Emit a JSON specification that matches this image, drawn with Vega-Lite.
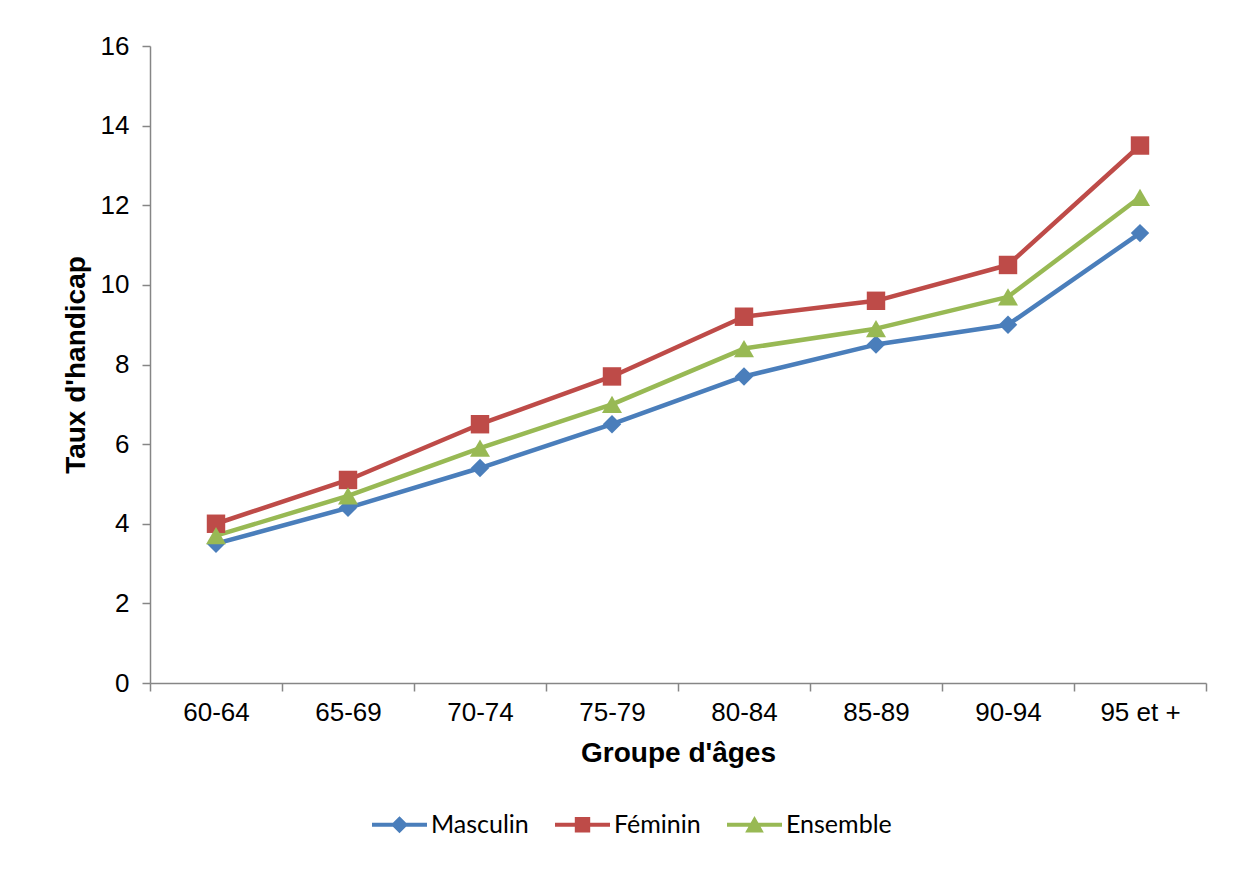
{
  "$schema": "https://vega.github.io/schema/vega-lite/v6.json",
  "width": 1056,
  "height": 637,
  "autosize": {"type": "none"},
  "padding": {"left": 150, "top": 46, "right": 30, "bottom": 186},
  "background": "white",
  "config": {
    "view": {"stroke": null},
    "axis": {
      "domainColor": "#868686",
      "domainWidth": 1.5,
      "tickColor": "#868686",
      "tickWidth": 1.5,
      "tickSize": 8,
      "grid": false,
      "labelFont": "Liberation Sans",
      "labelFontSize": 26,
      "labelColor": "#000000",
      "titleFont": "Liberation Sans",
      "titleFontSize": 28,
      "titleFontWeight": "bold",
      "titleColor": "#000000"
    }
  },
  "data": {
    "values": [
      {"age": "60-64", "serie": "Masculin", "taux": 3.5},
      {"age": "65-69", "serie": "Masculin", "taux": 4.4},
      {"age": "70-74", "serie": "Masculin", "taux": 5.4},
      {"age": "75-79", "serie": "Masculin", "taux": 6.5},
      {"age": "80-84", "serie": "Masculin", "taux": 7.7},
      {"age": "85-89", "serie": "Masculin", "taux": 8.5},
      {"age": "90-94", "serie": "Masculin", "taux": 9.0},
      {"age": "95 et +", "serie": "Masculin", "taux": 11.3},
      {"age": "60-64", "serie": "Féminin", "taux": 4.0},
      {"age": "65-69", "serie": "Féminin", "taux": 5.1},
      {"age": "70-74", "serie": "Féminin", "taux": 6.5},
      {"age": "75-79", "serie": "Féminin", "taux": 7.7},
      {"age": "80-84", "serie": "Féminin", "taux": 9.2},
      {"age": "85-89", "serie": "Féminin", "taux": 9.6},
      {"age": "90-94", "serie": "Féminin", "taux": 10.5},
      {"age": "95 et +", "serie": "Féminin", "taux": 13.5},
      {"age": "60-64", "serie": "Ensemble", "taux": 3.7},
      {"age": "65-69", "serie": "Ensemble", "taux": 4.7},
      {"age": "70-74", "serie": "Ensemble", "taux": 5.9},
      {"age": "75-79", "serie": "Ensemble", "taux": 7.0},
      {"age": "80-84", "serie": "Ensemble", "taux": 8.4},
      {"age": "85-89", "serie": "Ensemble", "taux": 8.9},
      {"age": "90-94", "serie": "Ensemble", "taux": 9.7},
      {"age": "95 et +", "serie": "Ensemble", "taux": 12.2}
    ]
  },
  "encoding": {
    "x": {
      "field": "age",
      "type": "nominal",
      "sort": null,
      "scale": {"type": "band", "paddingInner": 0, "paddingOuter": 0},
      "axis": {
        "title": "Groupe d'âges",
        "labelAngle": 0,
        "tickBand": "extent",
        "labelPadding": 8,
        "titlePadding": 14
      }
    },
    "y": {
      "field": "taux",
      "type": "quantitative",
      "scale": {"domain": [0, 16], "nice": false},
      "axis": {
        "title": "Taux d'handicap",
        "values": [0, 2, 4, 6, 8, 10, 12, 14, 16],
        "labelPadding": 13,
        "titlePadding": 10
      }
    },
    "color": {
      "field": "serie",
      "type": "nominal",
      "sort": ["Masculin", "Féminin", "Ensemble"],
      "scale": {"domain": ["Masculin", "Féminin", "Ensemble"], "range": ["#4A7EBB", "#BE4B48", "#98B954"]},
      "legend": {
        "title": null,
        "orient": "none",
        "direction": "horizontal",
        "legendX": 222,
        "legendY": 751,
        "labelFont": "Lato",
        "labelFontSize": 25,
        "labelColor": "#000000",
        "labelOffset": 4,
        "columnPadding": 26,
        "symbolSize": 3025,
        "symbolStrokeWidth": 0,
        "symbolOpacity": 1,
        "encode": {
          "symbols": {
            "update": {
              "shape": {"signal": "datum.value === 'Masculin' ? 'M-1,-0.075 L1,-0.075 L1,0.075 L-1,0.075 Z M0,-0.31 L0.31,0 L0,0.31 L-0.31,0 Z' : datum.value === 'Féminin' ? 'M-1,-0.075 L1,-0.075 L1,0.075 L-1,0.075 Z M-0.28,-0.28 L0.28,-0.28 L0.28,0.28 L-0.28,0.28 Z' : 'M-1,-0.075 L1,-0.075 L1,0.075 L-1,0.075 Z M0,-0.32 L0.34,0.28 L-0.34,0.28 Z'"},
              "fill": {"signal": "scale('color', datum.value)"},
              "strokeWidth": {"value": 0}
            }
          }
        }
      }
    }
  },
  "layer": [
    {
      "mark": {"type": "line", "strokeWidth": 4.5, "strokeJoin": "round"}
    },
    {
      "transform": [{"filter": "datum.serie === 'Masculin'"}],
      "mark": {"type": "point", "filled": true, "opacity": 1, "size": 340, "shape": "diamond"}
    },
    {
      "transform": [{"filter": "datum.serie === 'Féminin'"}],
      "mark": {"type": "point", "filled": true, "opacity": 1, "size": 340, "shape": "square"}
    },
    {
      "transform": [{"filter": "datum.serie === 'Ensemble'"}],
      "mark": {"type": "point", "filled": true, "opacity": 1, "size": 400, "shape": "triangle-up"}
    }
  ]
}
